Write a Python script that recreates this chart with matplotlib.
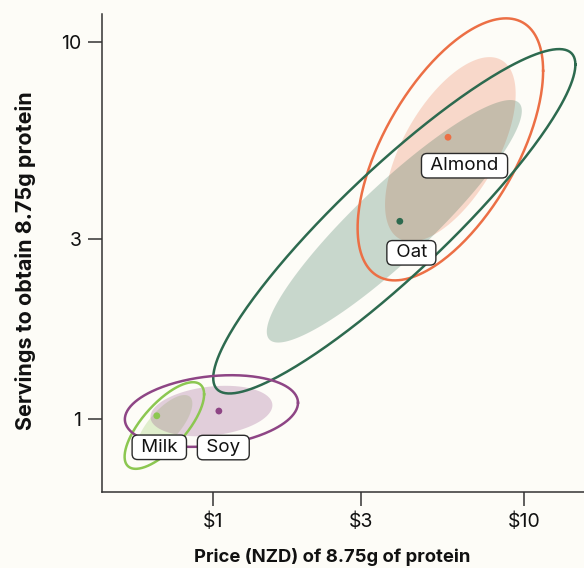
import numpy as np
import matplotlib.pyplot as plt

# milk types
names = ['Almond', 'Oat', 'Milk', 'Soy']
colors = ['#ec6f45', '#2d6a4f', '#8cc751', '#8e4585']

# median price (NZD) and servings for 8.75g protein
med_price = [5.70, 3.99, 0.66, 1.045]
med_serv = [5.60, 3.35, 1.02, 1.05]

# ellipse centres, log10 spreads and correlation
ell_price = [5.8, 3.83, 0.698, 0.989]
ell_serv = [5.2, 3.35, 0.961, 1.05]
sd_price = [0.21, 0.41, 0.09, 0.196]
sd_serv = [0.245, 0.322, 0.081, 0.067]
corr = [0.6, 0.91, 0.72, 0.23]

inner_k = 1.0
outer_k = 1.42

# label offsets (points)
lab_dx = [11.9, 8.3, 1.8, 3.2]
lab_dy = [-20.5, -22.7, -22.7, -26.3]

xticks = [1, 3, 10]
xlabels = ['$1', '$3', '$10']
yticks = [1, 3, 10]
ylabels = ['1', '3', '10']

bg = '#fdfcf7'
plt.rcParams['font.family'] = ['Inter', 'DejaVu Sans']


def ellipse(cx, cy, sx, sy, r, k):
	cov = np.array([[sx**2, r*sx*sy], [r*sx*sy, sy**2]])
	L = np.linalg.cholesky(cov)
	t = np.linspace(0, 2*np.pi, 300)
	pts = k * L @ np.vstack([np.cos(t), np.sin(t)])
	return 10**(np.log10(cx) + pts[0]), 10**(np.log10(cy) + pts[1])


fig = plt.figure(figsize=(5.84, 5.68), dpi=100, facecolor=bg)
ax = fig.add_axes([0.1747, 0.1338, 0.8253, 0.8416], facecolor=bg)
ax.set_xscale('log')
ax.set_yscale('log')

for i in range(len(names)):
	ex, ey = ellipse(ell_price[i], ell_serv[i], sd_price[i], sd_serv[i], corr[i], inner_k)
	ax.fill(ex, ey, color=colors[i], alpha=0.25, lw=0, zorder=1)

for i in range(len(names)):
	ex, ey = ellipse(ell_price[i], ell_serv[i], sd_price[i], sd_serv[i], corr[i], outer_k)
	ax.plot(ex, ey, color=colors[i], lw=1.8, zorder=2)

ax.scatter(med_price, med_serv, c=colors, s=24, zorder=3, edgecolors='none')

for i in range(len(names)):
	ax.annotate(' ' + names[i] + ' ', (med_price[i], med_serv[i]), xytext=(lab_dx[i], lab_dy[i]),
		textcoords='offset points', ha='center', va='center', fontsize=13.5, color='#111111',
		bbox=dict(boxstyle='round,pad=0.2,rounding_size=0.3', fc='white', ec='#2a2a2a', lw=1.0),
		zorder=4)

ax.set_xlim(0.44, 15.6)
ax.set_ylim(0.64, 11.9)
ax.set_xticks(xticks)
ax.set_xticklabels(xlabels)
ax.set_yticks(yticks)
ax.set_yticklabels(ylabels)
ax.minorticks_off()
ax.tick_params(length=10, width=1.1, color='#333333', labelsize=14, labelcolor='#111111', pad=5)

for s in ['top', 'right']:
	ax.spines[s].set_visible(False)
for s in ['left', 'bottom']:
	ax.spines[s].set_color('#333333')
	ax.spines[s].set_linewidth(1.1)

fig.text(332/584, 1 - 557/568, 'Price (NZD) of 8.75g of protein', ha='center', va='center',
	fontsize=13.3, fontweight='bold', color='#111111')
fig.text(26/584, 1 - 261/568, 'Servings to obtain 8.75g protein', ha='center', va='center',
	rotation=90, fontsize=15.5, fontweight='bold', color='#111111')

fig.savefig('out.png', dpi=100, facecolor=bg)
